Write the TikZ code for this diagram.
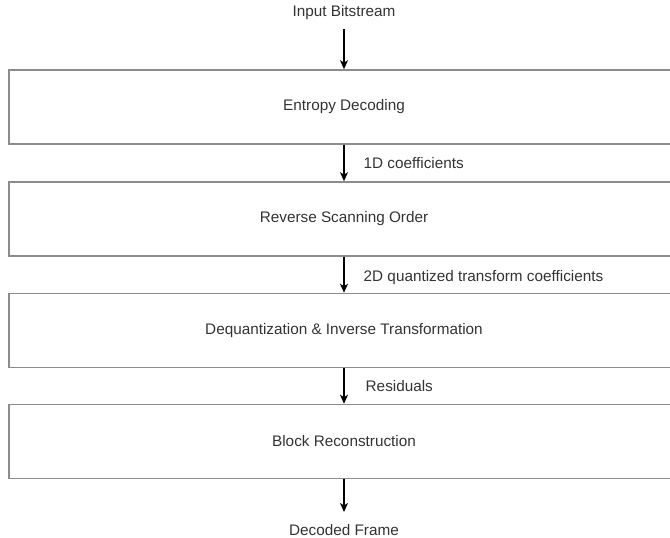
\documentclass[tikz,border=0pt]{standalone}
\usepackage{fontspec}
\setmainfont{Liberation Sans}
\usetikzlibrary{arrows.meta}
\definecolor{boxline}{HTML}{8C8C8C}
\definecolor{txtcol}{HTML}{333333}
\begin{document}
\begin{tikzpicture}[x=1pt,y=-1pt,
  txt/.style={text=txtcol,font=\fontsize{15.3}{17}\selectfont,inner sep=0pt},
  blk/.style={draw=boxline,line width=1.6pt,minimum width=670pt,minimum height=74pt,
    text=txtcol,font=\fontsize{15.3}{17}\selectfont,inner sep=0pt},
  arr/.style={draw=black,line width=1.4pt,-{Stealth[length=9pt,width=8pt,inset=2.5pt]}},
  lbl/.style={text=txtcol,font=\fontsize{15.3}{17}\selectfont,inner sep=0pt,anchor=west}]
\useasboundingbox (0,0) rectangle (670,538);
\clip (0,0) rectangle (670,538);
\node[txt] (in) at (344,13) {Input Bitstream};
\coordinate (inS) at (344,29);
\node[blk] (b1) at (344,107) {Entropy Decoding};
\node[blk] (b2) at (344,219) {Reverse Scanning Order};
\node[blk] (b3) at (344,330.5) {Dequantization \& Inverse Transformation};
\node[blk] (b4) at (344,441.5) {Block Reconstruction};
\coordinate (outE) at (344,512);
\node[txt] (out) at (344,530) {Decoded Frame};
\draw[arr] (inS) -- (b1.north);
\draw[arr] (b1.south) -- node[lbl,midway,xshift=19pt] {1D coefficients} (b2.north);
\draw[arr] (b2.south) -- node[lbl,midway,xshift=19pt,yshift=-3pt] {2D quantized transform coefficients} (b3.north);
\draw[arr] (b3.south) -- node[lbl,midway,xshift=21pt] {Residuals} (b4.north);
\draw[arr] (b4.south) -- (outE);
\end{tikzpicture}
\end{document}
